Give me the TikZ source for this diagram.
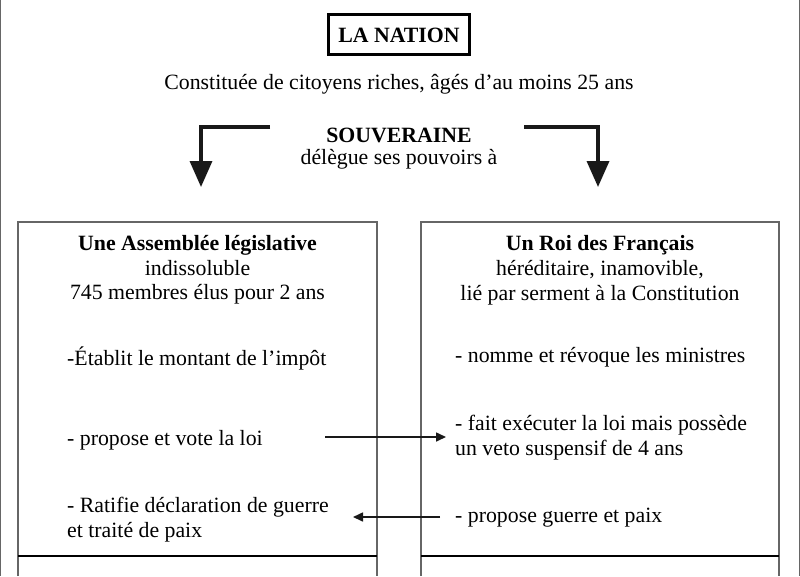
\documentclass[tikz,border=0pt]{standalone}
\usepackage{fontspec}
\setmainfont{Liberation Serif}
\usetikzlibrary{arrows.meta}
\begin{document}
\begin{tikzpicture}[x=1pt,y=-1pt,
  txt/.style={inner sep=0pt, anchor=base, font=\fontsize{21.8}{25}\selectfont},
  txtl/.style={txt, anchor=base west},
  boldtxt/.style={txt, font=\fontsize{21.8}{25}\selectfont\bfseries},
  boxline/.style={draw=black!60, line width=1.2pt},
  divline/.style={draw=black, line width=2.2pt},
  bigarrow/.style={draw=black!90, line width=3.5pt, -{Triangle[length=26pt,width=22pt]}},
  smallarrow/.style={draw=black!90, line width=1.6pt, -{Triangle[length=10pt,width=9pt]}}
]
\useasboundingbox (0,0) rectangle (800,576);
% outer frame sides
\draw[boxline] (0.8,0) -- (0.8,576);
\draw[boxline] (799.2,0) -- (799.2,576);

% La Nation
\node[boldtxt] (nation) at (399,42) {LA NATION};
\draw[line width=3pt] (328.5,14.5) rectangle (469.5,54.5);
\node[txt] (const) at (399,89) {Constituée de citoyens riches, âgés d’au moins 25 ans};
\node[boldtxt] (souv) at (399,142) {SOUVERAINE};
\node[txt] (deleg) at (399,164) {délègue ses pouvoirs à};

% elbow arrows
\coordinate (la0) at (270,127);
\coordinate (la1) at (201,187);
\coordinate (ra0) at (524,127);
\coordinate (ra1) at (598,187);
\draw[bigarrow] (la0) -| (la1);
\draw[bigarrow] (ra0) -| (ra1);

% boxes
\draw[boxline] (18,576) -- (18,222) -- (377,222) -- (377,576);
\draw[boxline] (421,576) -- (421,222) -- (779,222) -- (779,576);
\draw[divline] (18,556) -- (377,556);
\draw[divline] (421,556) -- (779,556);

% left box text
\node[boldtxt] (ass) at (197.5,250) {Une Assemblée législative};
\node[txt] (ass2) at (197.5,275) {indissoluble};
\node[txt] (ass3) at (197.5,299) {745 membres élus pour 2 ans};
\node[txtl] (l1) at (67,365) {-Établit le montant de l’impôt};
\node[txtl] (l2) at (67,445) {- propose et vote la loi};
\node[txtl] (l3) at (67,512) {- Ratifie déclaration de guerre};
\node[txtl] (l4) at (67,537) {et traité de paix};

% right box text
\node[boldtxt] (roi) at (600,250) {Un Roi des Français};
\node[txt] (roi2) at (600,275) {héréditaire, inamovible,};
\node[txt] (roi3) at (600,300) {lié par serment à la Constitution};
\node[txtl] (r1) at (455,362) {- nomme et révoque les ministres};
\node[txtl] (r2) at (455,430) {- fait exécuter la loi mais possède};
\node[txtl] (r3) at (455,455) {un veto suspensif de 4 ans};
\node[txtl] (r4) at (455,522) {- propose guerre et paix};

% horizontal arrows
\coordinate (a1s) at (325,437);
\coordinate (a1e) at (446,437);
\coordinate (a2s) at (440,517);
\coordinate (a2e) at (353,517);
\draw[smallarrow] (a1s) -- (a1e);
\draw[smallarrow] (a2s) -- (a2e);
\end{tikzpicture}
\end{document}
